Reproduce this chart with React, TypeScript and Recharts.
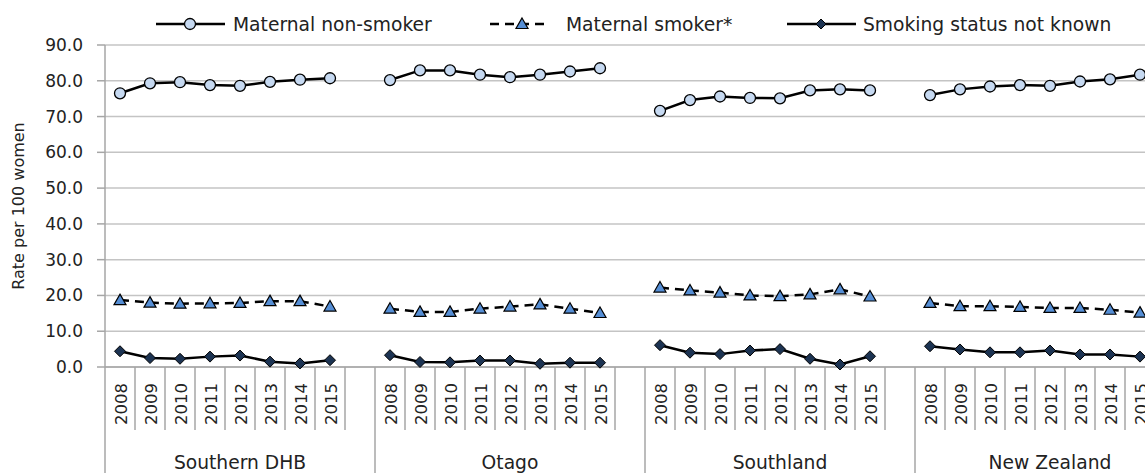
import React from "react";
import { LineChart, Line, XAxis, YAxis, CartesianGrid, Label } from "recharts";

// Rates per 100 women, 2008–2015, by area
const groups = ["Southern DHB", "Otago", "Southland", "New Zealand"];
const years = ["2008", "2009", "2010", "2011", "2012", "2013", "2014", "2015"];
const yTicks = [0, 10, 20, 30, 40, 50, 60, 70, 80, 90];

const nonSmoker = [
  [76.5, 79.3, 79.6, 78.8, 78.6, 79.7, 80.3, 80.7],
  [80.2, 82.9, 82.9, 81.7, 81.0, 81.7, 82.6, 83.5],
  [71.6, 74.6, 75.6, 75.2, 75.1, 77.3, 77.6, 77.3],
  [76.0, 77.6, 78.4, 78.8, 78.6, 79.8, 80.4, 81.7],
];
const smoker = [
  [18.7, 18.0, 17.7, 17.8, 17.9, 18.4, 18.4, 16.9],
  [16.3, 15.4, 15.4, 16.3, 16.9, 17.5, 16.3, 15.1],
  [22.2, 21.4, 20.8, 20.0, 19.8, 20.3, 21.7, 19.7],
  [17.9, 17.0, 17.0, 16.8, 16.5, 16.5, 16.0, 15.2],
];
const notKnown = [
  [4.4, 2.5, 2.3, 2.9, 3.2, 1.5, 1.0, 1.9],
  [3.3, 1.4, 1.3, 1.8, 1.8, 0.9, 1.2, 1.2],
  [6.1, 4.0, 3.6, 4.6, 5.0, 2.3, 0.7, 3.0],
  [5.8, 4.9, 4.1, 4.1, 4.6, 3.5, 3.5, 2.9],
];

const FONT = "'DejaVu Sans', sans-serif";
const AXIS_GREY = "#a6a6a6";
const GRID_GREY = "#c4c4c4";
const TEXT = "#222";

// one blank slot between regions so the lines break
type Row = { key: string; year: string; group: number; non?: number; smk?: number; unk?: number };
const rows: Row[] = [];
groups.forEach((g, gi) => {
  years.forEach((y, yi) => {
    rows.push({ key: `${g}|${y}`, year: y, group: gi, non: nonSmoker[gi][yi], smk: smoker[gi][yi], unk: notKnown[gi][yi] });
  });
  if (gi < groups.length - 1) rows.push({ key: `gap${gi}`, year: "", group: gi });
});

const SLOT = 9;

function XTick(props: any) {
  const { x, y, payload } = props;
  const i = payload.index;
  const row = rows[i];
  const left = x - 15;
  const groupStart = i % SLOT === 0;
  return (
    <g>
      <line x1={left} x2={left} y1={y} y2={groupStart ? y + 110 : y + 63} stroke={AXIS_GREY} strokeWidth={1.5} />
      {row.year && (
        <text
          x={x + 1}
          y={y + 37}
          transform={`rotate(-90 ${x + 1} ${y + 37})`}
          textAnchor="middle"
          dominantBaseline="central"
          fontFamily={FONT}
          fontSize={16.5}
          fill={TEXT}
        >
          {row.year}
        </text>
      )}
      {i % SLOT === 4 && (
        <text x={x} y={y + 95} textAnchor="middle" dominantBaseline="central" fontFamily={FONT} fontSize={18.7} fill={TEXT}>
          {groups[row.group]}
        </text>
      )}
    </g>
  );
}

const circleDot = (p: any) =>
  p.cy == null ? <g key={p.key} /> : <circle key={p.key} cx={p.cx} cy={p.cy} r={5.5} fill="#c6d9f1" stroke="#000" strokeWidth={1.3} />;

const triangleDot = (p: any) =>
  p.cy == null ? (
    <g key={p.key} />
  ) : (
    <polygon
      key={p.key}
      points={`${p.cx},${p.cy - 6} ${p.cx + 6},${p.cy + 4.5} ${p.cx - 6},${p.cy + 4.5}`}
      fill="#558ed5"
      stroke="#000"
      strokeWidth={1.2}
    />
  );

const diamondDot = (p: any) =>
  p.cy == null ? (
    <g key={p.key} />
  ) : (
    <polygon
      key={p.key}
      points={`${p.cx},${p.cy - 5.5} ${p.cx + 5.5},${p.cy} ${p.cx},${p.cy + 5.5} ${p.cx - 5.5},${p.cy}`}
      fill="#1c3352"
      stroke="#000"
      strokeWidth={1}
    />
  );

function ChartLegend() {
  const ty = 24;
  return (
    <svg width={1145} height={45} style={{ position: "absolute", left: 0, top: 0 }}>
      <line x1={156} x2={225} y1={ty} y2={ty} stroke="#000" strokeWidth={2.5} />
      <circle cx={190} cy={ty} r={5.5} fill="#c6d9f1" stroke="#000" strokeWidth={1.3} />
      <text x={233} y={ty} dominantBaseline="central" fontFamily={FONT} fontSize={18.7} fill={TEXT}>
        Maternal non-smoker
      </text>

      <line x1={490} x2={547} y1={ty} y2={ty} stroke="#000" strokeWidth={2.5} strokeDasharray="9 6" />
      <polygon points={`522,${ty - 6} 528,${ty + 4.5} 516,${ty + 4.5}`} fill="#558ed5" stroke="#000" strokeWidth={1.2} />
      <text x={566} y={ty} dominantBaseline="central" fontFamily={FONT} fontSize={18.7} fill={TEXT}>
        Maternal smoker*
      </text>

      <line x1={787} x2={856} y1={ty} y2={ty} stroke="#000" strokeWidth={2.5} />
      <polygon points={`821,${ty - 5} 826,${ty} 821,${ty + 5} 816,${ty}`} fill="#1c3352" stroke="#000" strokeWidth={1} />
      <text x={863} y={ty} dominantBaseline="central" fontFamily={FONT} fontSize={18.7} fill={TEXT}>
        Smoking status not known
      </text>
    </svg>
  );
}

export default function App() {
  return (
    <div style={{ position: "fixed", left: 0, top: 0, width: 1145, height: 473, overflow: "hidden", background: "#fff" }}>
      <ChartLegend />
      <LineChart width={1155} height={473} data={rows} margin={{ top: 45, right: 0, bottom: 0, left: 0 }}>
        <CartesianGrid vertical={false} stroke={GRID_GREY} strokeWidth={1.5} />
        <XAxis
          dataKey="key"
          interval={0}
          height={106}
          padding={{ left: 15, right: 15 }}
          tickSize={0}
          tickMargin={0}
          tickLine={false}
          axisLine={{ stroke: AXIS_GREY, strokeWidth: 1.5 }}
          tick={<XTick />}
        />
        <YAxis
          width={105}
          domain={[0, 90]}
          ticks={yTicks}
          interval={0}
          tickFormatter={(v: number) => v.toFixed(1)}
          tickSize={8}
          tickMargin={14}
          axisLine={{ stroke: AXIS_GREY, strokeWidth: 1.5 }}
          tickLine={{ stroke: AXIS_GREY, strokeWidth: 1.5 }}
          tick={{ fill: TEXT, fontSize: 17, fontFamily: FONT }}
        >
          <Label
            content={() => (
              <text
                x={18}
                y={206}
                transform="rotate(-90 18 206)"
                textAnchor="middle"
                dominantBaseline="central"
                fontFamily={FONT}
                fontSize={16}
                fill={TEXT}
              >
                Rate per 100 women
              </text>
            )}
          />
        </YAxis>
        <Line
          dataKey="non"
          name="Maternal non-smoker"
          type="linear"
          stroke="#000"
          strokeWidth={2.5}
          dot={circleDot}
          activeDot={false}
          isAnimationActive={false}
        />
        <Line
          dataKey="smk"
          name="Maternal smoker*"
          type="linear"
          stroke="#000"
          strokeWidth={2.5}
          strokeDasharray="9 6"
          dot={triangleDot}
          activeDot={false}
          isAnimationActive={false}
        />
        <Line
          dataKey="unk"
          name="Smoking status not known"
          type="linear"
          stroke="#000"
          strokeWidth={2.5}
          dot={diamondDot}
          activeDot={false}
          isAnimationActive={false}
        />
      </LineChart>
    </div>
  );
}
